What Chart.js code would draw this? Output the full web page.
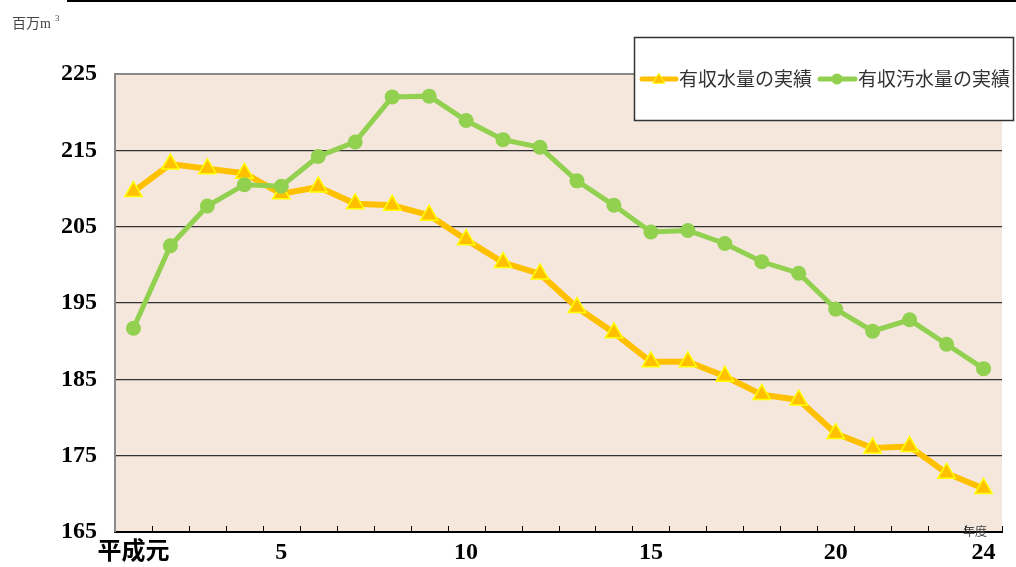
<!DOCTYPE html>
<html>
<head>
<meta charset="utf-8">
<script src="https://cdn.jsdelivr.net/npm/chart.js@4.4.0/dist/chart.umd.min.js"></script>
<style>
    html, body { margin: 0; padding: 0; background: #fff; }
    #wrap { position: relative; width: 1016px; height: 567px; }
</style>
</head>
<body>
<div id="wrap"><canvas id="chartWater" width="1016" height="567"></canvas></div>
<script>
// years: 平成元 .. 24
var years = ['平成元', '', '', '', '5', '', '', '', '', '10', '', '', '', '', '15', '', '', '', '', '20', '', '', '', '24'];

// 有収水量の実績 (million m3)
var waterActual = [209.6, 213.2, 212.6, 212.0, 209.3, 210.2, 208.0, 207.8, 206.5, 203.3, 200.3, 198.8,
    194.4, 191.1, 187.3, 187.3, 185.4, 183.0, 182.3, 177.9, 176.0, 176.2, 172.7, 170.7];

// 有収汚水量の実績 (million m3)
var sewageActual = [191.7, 202.5, 207.7, 210.5, 210.3, 214.2, 216.1, 222.0, 222.1, 218.9, 216.4, 215.4,
    211.0, 207.8, 204.3, 204.5, 202.8, 200.4, 198.9, 194.2, 191.3, 192.8, 189.6, 186.4];

var seriesNames = ['有収水量の実績', '有収汚水量の実績'];
var yTicks = [165, 175, 185, 195, 205, 215, 225];

var yellow = '#FFC000';
var green = '#92D050';
var serif = '"Liberation Serif", "Noto Sans CJK JP", serif';

// background of plot + extra bits (ticks, unit labels, legend box)
var decoPlugin = {
    id: 'deco',
    beforeDraw: function(chart) {
        var a = chart.chartArea;
        var ctx = chart.ctx;
        ctx.save();
        ctx.fillStyle = '#F5E7DB';
        ctx.fillRect(a.left, a.top, a.right - a.left, a.bottom - a.top);
        ctx.restore();
    },
    afterDatasetsDraw: function(chart) {
        var ctx = chart.ctx;
        var a = chart.chartArea;
        var xs = chart.scales.x;
        ctx.save();

        // small inward ticks between categories
        ctx.strokeStyle = '#000';
        ctx.lineWidth = 1;
        var n = years.length;
        for (var i = 1; i <= n; i++) {
            var x = Math.round(xs.left + (xs.right - xs.left) * i / n) + 0.5;
            ctx.beginPath();
            ctx.moveTo(x, a.bottom);
            ctx.lineTo(x, a.bottom - 6);
            ctx.stroke();
        }

        // line across the top of the picture
        ctx.strokeStyle = '#000';
        ctx.lineWidth = 2;
        ctx.beginPath();
        ctx.moveTo(67, 1);
        ctx.lineTo(1016, 1);
        ctx.stroke();

        // unit labels
        ctx.fillStyle = '#444';
        ctx.font = '14px ' + serif;
        ctx.textBaseline = 'middle';
        ctx.textAlign = 'left';
        ctx.fillText('百万m', 12, 24);
        ctx.font = '9px ' + serif;
        ctx.fillText('3', 55, 19);
        ctx.font = '12px ' + serif;
        ctx.fillText('年度', 963, 533);

        // legend box
        var bx = 634, by = 37, bw = 379, bh = 83;
        ctx.fillStyle = '#fff';
        ctx.fillRect(bx, by, bw, bh);
        ctx.strokeStyle = '#333';
        ctx.lineWidth = 1.5;
        ctx.strokeRect(bx + 0.5, by + 0.5, bw, bh);

        var ly = 79;
        // item 1
        ctx.strokeStyle = yellow;
        ctx.lineWidth = 5;
        ctx.lineCap = 'round';
        ctx.beginPath();
        ctx.moveTo(642, ly);
        ctx.lineTo(676, ly);
        ctx.stroke();
        ctx.fillStyle = yellow;
        ctx.strokeStyle = '#FFFF00';
        ctx.lineWidth = 1;
        Chart.helpers.drawPoint(ctx, {pointStyle: 'triangle', radius: 6.5, borderWidth: 1, rotation: 0}, 659, ly + 1);

        ctx.fillStyle = '#333';
        ctx.font = '19px "Noto Sans CJK JP", sans-serif';
        ctx.textAlign = 'left';
        ctx.fillText(seriesNames[0], 679, ly);

        // item 2
        ctx.strokeStyle = green;
        ctx.lineWidth = 5;
        ctx.beginPath();
        ctx.moveTo(820, ly);
        ctx.lineTo(855, ly);
        ctx.stroke();
        ctx.fillStyle = green;
        ctx.beginPath();
        ctx.arc(837, ly, 5.5, 0, Math.PI * 2);
        ctx.fill();

        ctx.fillStyle = '#333';
        ctx.fillText(seriesNames[1], 858, ly);

        ctx.restore();
    }
};

var chartdata = {
    labels: years,
    datasets: [
        {
            label: seriesNames[0],
            data: waterActual,
            borderColor: yellow,
            borderWidth: 6,
            backgroundColor: yellow,
            pointStyle: 'triangle',
            pointRadius: 10,
            pointBackgroundColor: yellow,
            pointBorderColor: '#FFFF00',
            pointBorderWidth: 1.5,
            tension: 0,
            order: 1
        },
        {
            label: seriesNames[1],
            data: sewageActual,
            borderColor: green,
            borderWidth: 5,
            backgroundColor: green,
            pointStyle: 'circle',
            pointRadius: 7.5,
            pointBackgroundColor: green,
            pointBorderColor: green,
            pointBorderWidth: 0,
            tension: 0,
            order: 0
        }
    ]
};

var ctx = document.getElementById('chartWater');

var lineGraph = new Chart(ctx, {
    type: 'line',
    data: chartdata,
    plugins: [decoPlugin],
    options: {
        responsive: false,
        animation: false,
        layout: {
            padding: {left: 0, right: 14, top: 74, bottom: 0}
        },
        plugins: {
            legend: {display: false},
            tooltip: {enabled: false}
        },
        scales: {
            x: {
                type: 'category',
                offset: true,
                afterFit: function(scale) { scale.height = 35; },
                grid: {
                    display: true,
                    drawOnChartArea: false,
                    drawTicks: false,
                    offset: true
                },
                border: {display: true, color: '#000', width: 2},
                ticks: {
                    autoSkip: false,
                    maxRotation: 0,
                    padding: 6,
                    color: '#000',
                    font: {family: serif, size: 24, weight: 'bold'}
                }
            },
            y: {
                min: yTicks[0],
                max: yTicks[yTicks.length - 1],
                afterFit: function(scale) { scale.width = 115; },
                afterBuildTicks: function(scale) {
                    scale.ticks = yTicks.map(function(v) { return {value: v}; });
                },
                grid: {
                    drawTicks: false,
                    color: function(c) {
                        if (c.tick && c.tick.value === 225) return '#8a8a8a';
                        if (c.tick && c.tick.value === 165) return 'rgba(0,0,0,0)';
                        return '#333';
                    },
                    lineWidth: function(c) {
                        return (c.tick && c.tick.value === 225) ? 2 : 1.2;
                    }
                },
                border: {display: true, color: '#8a8a8a', width: 2},
                ticks: {
                    padding: 18,
                    color: '#000',
                    font: {family: serif, size: 24, weight: 'bold'}
                }
            }
        }
    }
});
</script>
</body>
</html>
